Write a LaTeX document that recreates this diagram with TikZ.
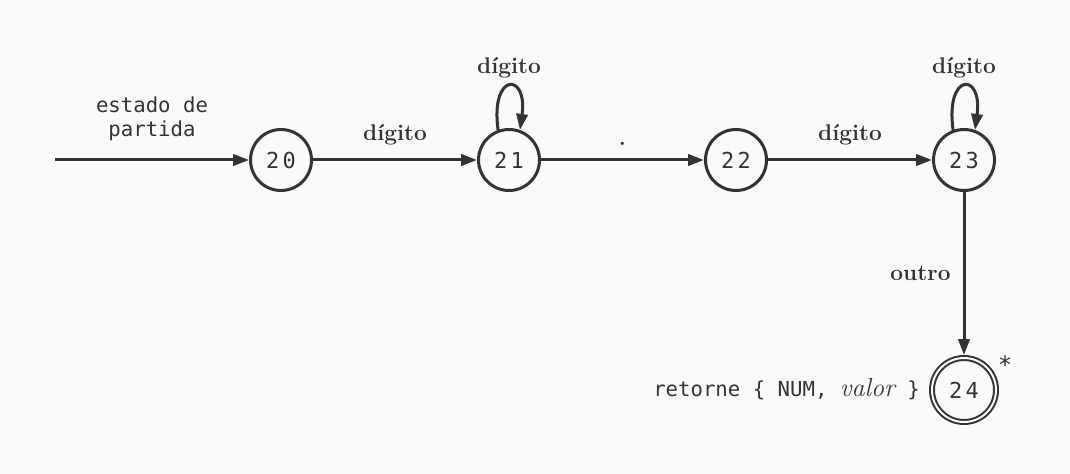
\documentclass[tikz,border=0pt]{standalone}
\usepackage{fontspec}
\setmonofont{DejaVu Sans Mono}
\newfontfamily\statefont[LetterSpace=14]{DejaVu Sans Mono}
\usetikzlibrary{arrows.meta}
\definecolor{ink}{HTML}{333333}
\definecolor{paper}{HTML}{FAFAFA}
\begin{document}
\begin{tikzpicture}[x=0.75pt,y=-0.75pt,
  state/.style={circle,draw=ink,line width=2.25pt,minimum size=45.75pt,inner sep=0pt,
    text=ink,font=\statefont\fontsize{16.5}{18}\selectfont},
  final/.style={circle,draw=ink,line width=1.5pt,double=paper,double distance=1.5pt,
    minimum size=48pt,inner sep=0pt,outer sep=2.25pt,
    text=ink,font=\statefont\fontsize{16.5}{18}\selectfont},
  edge/.style={draw=ink,line width=2.25pt,-{Triangle[length=12pt,width=8.5pt]}},
  lbl/.style={text=ink,inner sep=0pt,font=\bfseries\fontsize{17}{20}\selectfont},
  mono/.style={text=ink,inner sep=0pt,font=\ttfamily\fontsize{15.5}{18}\selectfont}]
  \fill[paper] (0,0) rectangle (1070,474);
  \useasboundingbox (0,0) rectangle (1070,474);

  % states
  \node[state] (n20) at (281,160) {20};
  \node[state] (n21) at (509,160) {21};
  \node[state] (n22) at (736,160) {22};
  \node[state] (n23) at (964,160) {23};
  \node[final] (n24) at (964,390) {24};
  \coordinate (start) at (55,160);

  % transitions
  \draw[edge] (start) -- node[mono,above=13pt,align=center]{estado de\\partida} (n20);
  \draw[edge] (n20) -- node[lbl,above=10pt]{dígito} (n21);
  \draw[edge] (n21) -- node[lbl,above=10pt]{.} (n22);
  \draw[edge] (n22) -- node[lbl,above=10pt]{dígito} (n23);
  \draw[edge] (n23) -- node[lbl,left=9pt]{outro} (n24);

  % self loops
  \draw[edge] (n21.110) .. controls +(-8,-58) and +(8,-58) .. node[lbl,above=5pt]{dígito} (n21.70);
  \draw[edge] (n23.110) .. controls +(-8,-58) and +(8,-58) .. node[lbl,above=5pt]{dígito} (n23.70);

  % action of the final state
  \node[mono,anchor=east] (ret) at (920,389) {retorne \{ NUM, {\rmfamily\itshape\fontsize{19.5}{20}\selectfont valor} \}};
  \node[mono,font=\ttfamily\fontsize{18}{18}\selectfont] (star) at (1005,365) {*};
\end{tikzpicture}
\end{document}
